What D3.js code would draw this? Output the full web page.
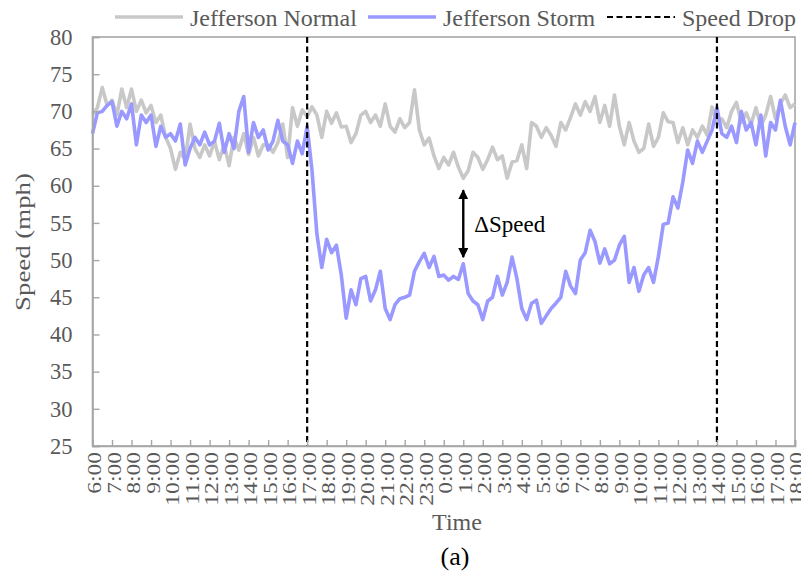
<!DOCTYPE html>
<html>
<head>
<meta charset="utf-8">
<script src="https://cdn.jsdelivr.net/npm/d3@7/dist/d3.min.js"></script>
<style>
  body { margin: 0; background: #fff; }
  svg { display: block; font-family: "Liberation Serif", "Times New Roman", serif; }
</style>
</head>
<body>
<svg id="chart" width="801" height="576"></svg>
<script>
// Speeds sampled every 15 minutes from 6:00 on day one to 18:00 on day two.
const startHour = 6;
const stepMinutes = 15;

const hourLabels = [
  "6:00", "7:00", "8:00", "9:00", "10:00", "11:00", "12:00", "13:00", "14:00",
  "15:00", "16:00", "17:00", "18:00", "19:00", "20:00", "21:00", "22:00", "23:00",
  "0:00", "1:00", "2:00", "3:00", "4:00", "5:00", "6:00", "7:00", "8:00", "9:00",
  "10:00", "11:00", "12:00", "13:00", "14:00", "15:00", "16:00", "17:00", "18:00"
];

const speedTicks = [25, 30, 35, 40, 45, 50, 55, 60, 65, 70, 75, 80];

const normalSpeeds = [
  69.5, 70.5, 73.2, 70.8, 71.5, 69.5, 73.0, 70.5, 73.0, 70.0, 71.5, 69.8,
  70.8, 68.5, 69.5, 66.5, 65.0, 62.2, 64.5, 63.5, 68.3, 65.0, 63.8, 65.5,
  64.0, 66.0, 63.5, 65.5, 62.7, 66.5, 64.8, 67.0, 64.2, 66.5, 64.0, 65.5,
  65.5, 64.5, 65.8, 68.3, 63.8, 70.5, 68.0, 70.2, 69.3, 70.6, 69.5, 66.5,
  70.0, 68.4, 69.8, 67.9, 68.0, 65.8, 67.0, 69.5, 70.0, 68.5, 69.5, 68.0,
  71.0, 68.0, 67.2, 69.0, 67.8, 68.5, 72.9, 67.5, 65.5, 66.4, 64.0, 62.3,
  63.8, 62.8, 64.5, 62.5, 61.0, 62.0, 64.5, 63.8, 62.2, 63.5, 65.2, 63.5,
  64.0, 61.0, 63.2, 63.4, 65.5, 62.3, 68.5, 68.0, 66.5, 67.8, 66.8, 65.3,
  68.5, 67.5, 69.2, 71.0, 69.5, 71.3, 70.0, 72.0, 68.5, 70.8, 68.0, 72.2,
  68.0, 65.5, 68.5, 66.0, 64.5, 65.0, 68.3, 65.3, 66.5, 69.8, 68.6, 68.5,
  65.8, 67.8, 65.5, 67.5, 66.5, 68.0, 66.8, 70.6, 68.5, 69.0, 67.8, 70.0,
  71.2, 68.5, 69.8, 68.3, 70.5, 68.0, 69.5, 72.0, 69.0, 71.0, 72.2, 70.5,
  71.0
];

const stormSpeeds = [
  67.0, 69.8, 70.0, 70.8, 71.3, 68.0, 70.0, 69.0, 71.0, 65.5, 69.5, 68.5,
  69.5, 65.3, 68.0, 66.5, 67.0, 66.0, 68.3, 62.8, 65.0, 66.5, 65.5, 67.2,
  65.5, 66.0, 68.4, 64.5, 67.0, 65.0, 70.0, 72.0, 64.5, 68.5, 66.5, 67.5,
  64.8, 66.0, 68.8, 66.0, 65.5, 63.0, 66.0, 64.3, 68.0, 62.0, 53.5, 49.0,
  52.8, 51.0, 52.0, 48.0, 42.2, 46.0, 44.0, 47.5, 47.8, 44.5, 46.0, 48.5,
  43.5, 42.0, 44.0, 44.8, 45.0, 45.3, 48.5, 49.8, 50.9, 49.0, 50.5, 47.8,
  48.0, 47.3, 47.8, 47.4, 49.5, 45.5, 44.5, 44.0, 42.0, 44.5, 45.0, 47.8,
  45.3, 47.0, 50.4, 47.5, 43.5, 42.0, 44.2, 44.6, 41.5, 42.5, 43.5, 44.2,
  45.0, 48.5, 46.5, 45.5, 50.0, 51.0, 54.0, 52.5, 49.6, 51.5, 49.5, 50.0,
  52.0, 53.2, 47.0, 49.0, 45.8, 48.0, 49.0, 47.0, 50.5, 54.8, 55.0, 58.5,
  57.0, 60.5, 64.8, 63.0, 66.0, 64.5, 66.0, 67.5, 70.5, 67.0, 66.5, 68.0,
  65.8, 70.0, 67.5, 68.5, 65.5, 69.5, 64.0, 68.5, 67.5, 71.5, 68.0, 65.5,
  68.5
];

// Hours counted from midnight of day one (38 = 14:00 on day two).
const speedDropHours = [17, 38];
const deltaMarker = { hour: 25, upper: 59.4, lower: 50.4, label: "\u0394Speed" };
const seriesNames = ["Jefferson Normal", "Jefferson Storm", "Speed Drop"];

const colors = { normal: "#c8c8c8", storm: "#9999ff", drop: "#000000", axis: "#a6a6a6", text: "#595959" };

const svg = d3.select("#chart");
const plotLeft = 92.5, plotRight = 795, plotTop = 37, plotBottom = 446;

const x = d3.scaleLinear().domain([startHour, startHour + hourLabels.length - 1]).range([plotLeft, plotRight]);
const y = d3.scaleLinear().domain([25, 80]).range([plotBottom, plotTop]);

const hourOf = i => startHour + i * stepMinutes / 60;
const line = d3.line().x((d, i) => x(hourOf(i))).y(d => y(d));

// plot frame
svg.append("rect")
  .attr("x", plotLeft).attr("y", plotTop)
  .attr("width", plotRight - plotLeft).attr("height", plotBottom - plotTop)
  .attr("fill", "none").attr("stroke", colors.axis).attr("stroke-width", 1.6);

// series
svg.append("path").datum(normalSpeeds)
  .attr("d", line).attr("fill", "none")
  .attr("stroke", colors.normal).attr("stroke-width", 3.6)
  .attr("stroke-linejoin", "round");
svg.append("path").datum(stormSpeeds)
  .attr("d", line).attr("fill", "none")
  .attr("stroke", colors.storm).attr("stroke-width", 3.6)
  .attr("stroke-linejoin", "round");

// speed drop markers
svg.selectAll("line.drop").data(speedDropHours).enter().append("line")
  .attr("class", "drop")
  .attr("x1", d => x(d)).attr("x2", d => x(d))
  .attr("y1", plotTop).attr("y2", plotBottom)
  .attr("stroke", colors.drop).attr("stroke-width", 2.2)
  .attr("stroke-dasharray", "6,3.5");

// x axis
const hourTicks = hourLabels.map((_, k) => startHour + k);
const xAxis = d3.axisBottom(x)
  .tickValues(hourTicks)
  .tickSize(-6)
  .tickFormat((d, k) => hourLabels[k]);
const gx = svg.append("g").attr("transform", `translate(0,${plotBottom})`).call(xAxis);
gx.select(".domain").attr("stroke", colors.axis).attr("stroke-width", 1.6);
gx.selectAll(".tick line").attr("stroke", colors.axis).attr("stroke-width", 1.4);
gx.selectAll(".tick text")
  .attr("x", 0).attr("y", 0).attr("dy", "0.42em")
  .attr("transform", "translate(0,6) rotate(-90) scale(1.24,1)")
  .attr("text-anchor", "end")
  .attr("fill", colors.text)
  .style("font-family", "'Liberation Serif', 'Times New Roman', serif")
  .style("font-size", "19px");

// y axis
const yAxis = d3.axisLeft(y).tickValues(speedTicks).tickSize(-7).tickPadding(20);
const gy = svg.append("g").attr("transform", `translate(${plotLeft},0)`).call(yAxis);
gy.select(".domain").attr("stroke", colors.axis).attr("stroke-width", 1.6);
gy.selectAll(".tick line").attr("stroke", colors.axis).attr("stroke-width", 1.4);
gy.selectAll(".tick text")
  .attr("fill", colors.text)
  .style("font-family", "'Liberation Serif', 'Times New Roman', serif")
  .style("font-size", "22.5px");

// axis titles
svg.append("text")
  .attr("transform", "translate(30,242) rotate(-90) scale(1.22,1)")
  .attr("text-anchor", "middle")
  .attr("fill", colors.text).style("font-size", "22px")
  .text("Speed (mph)");
svg.append("text")
  .attr("x", 457).attr("y", 530)
  .attr("text-anchor", "middle")
  .attr("fill", colors.text).style("font-size", "24px")
  .text("Time");
svg.append("text")
  .attr("x", 455).attr("y", 565)
  .attr("text-anchor", "middle")
  .attr("fill", "#000").style("font-size", "26px")
  .text("(a)");

// delta speed marker
const defs = svg.append("defs");
defs.append("marker").attr("id", "head")
  .attr("viewBox", "0 0 10 10").attr("refX", 9).attr("refY", 5)
  .attr("markerWidth", 4.2).attr("markerHeight", 4.2)
  .attr("orient", "auto-start-reverse")
  .append("path").attr("d", "M0,0 L10,5 L0,10 Z").attr("fill", "#000");
const ax = x(deltaMarker.hour);
svg.append("line")
  .attr("x1", ax).attr("x2", ax)
  .attr("y1", y(deltaMarker.upper)).attr("y2", y(deltaMarker.lower))
  .attr("stroke", "#000").attr("stroke-width", 2.4)
  .attr("marker-start", "url(#head)").attr("marker-end", "url(#head)");
svg.append("text")
  .attr("x", ax + 11).attr("y", y((deltaMarker.upper + deltaMarker.lower) / 2) + 8)
  .attr("fill", "#000").style("font-size", "23px")
  .text(deltaMarker.label);

// legend
const legendItems = [
  { name: seriesNames[0], color: colors.normal, dash: null, x0: 115 },
  { name: seriesNames[1], color: colors.storm, dash: null, x0: 368 },
  { name: seriesNames[2], color: colors.drop, dash: "6,3.5", x0: 607 }
];
const lg = svg.append("g");
legendItems.forEach(it => {
  lg.append("line")
    .attr("x1", it.x0).attr("x2", it.x0 + 68)
    .attr("y1", 17).attr("y2", 17)
    .attr("stroke", it.color)
    .attr("stroke-width", it.dash ? 2.2 : 3.6)
    .attr("stroke-dasharray", it.dash);
  lg.append("text")
    .attr("x", it.x0 + 75).attr("y", 25.5)
    .attr("fill", colors.text).style("font-size", "24px")
    .text(it.name);
});
</script>
</body>
</html>
